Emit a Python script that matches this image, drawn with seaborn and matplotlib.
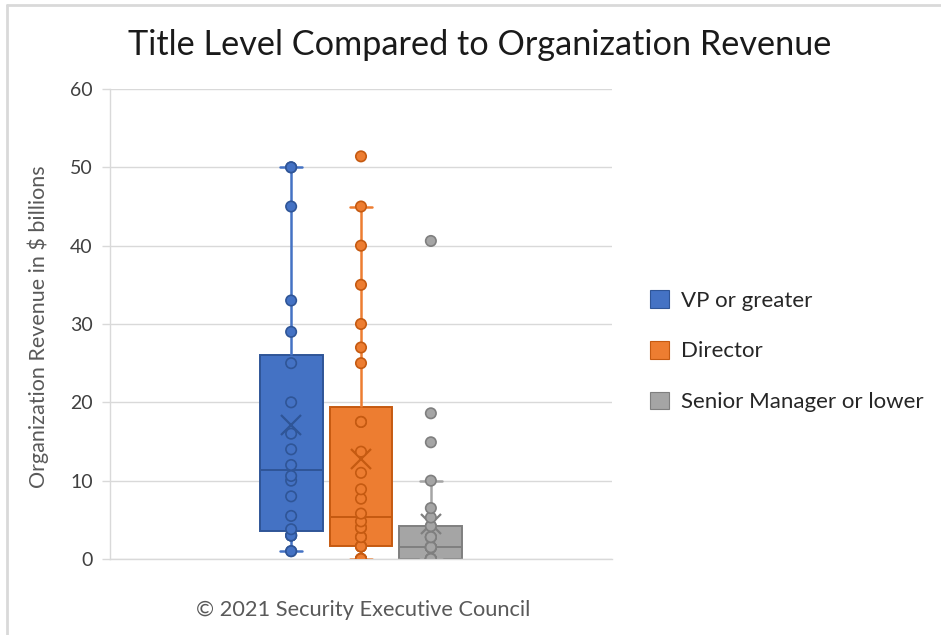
import numpy as np
import pandas as pd
import matplotlib
matplotlib.use("Agg")
import matplotlib.pyplot as plt
import matplotlib.colors as mcolors
from matplotlib.patches import Patch
from matplotlib.lines import Line2D
import seaborn as sns

# ---------------- data ----------------
groups = ["VP or greater", "Director", "Senior Manager or lower"]
vp_values = [1, 1, 3, 3, 3, 3.8, 5.5, 8, 10, 10.6, 12, 14, 16, 20, 25, 29, 33, 45, 50, 50]
director_values = [0, 0, 0, 0, 0, 0, 1.6, 1.6, 1.6, 2.8, 2.8, 4, 4, 4.8,
                   5.8, 7.7, 8.9, 11, 13.7, 17.5, 17.5, 25, 27, 30, 35, 40, 45, 51.4]
senior_values = [0] * 8 + [1.5] * 9 + [2.8] * 4 + [4.2, 4.2] + [5.3, 6.5, 10, 14.9, 18.6, 40.6]
y_ticks = [0, 10, 20, 30, 40, 50, 60]
title_text = "Title Level Compared to Organization Revenue"
ylabel_text = "Organization Revenue in $ billions"
credit_text = "\u00a9 2021 Security Executive Council"

colors = ["#4472C4", "#ED7D31", "#A5A5A5"]
dark = ["#2F5597", "#C55A11", "#7F7F7F"]

df = pd.DataFrame({
    "group": [groups[0]] * len(vp_values) + [groups[1]] * len(director_values) + [groups[2]] * len(senior_values),
    "revenue": vp_values + director_values + senior_values,
})
df["all"] = "all"

sns.set_theme(style="white")
plt.rcParams["font.family"] = ["Lato", "DejaVu Sans"]

W, H = 941, 635
fig = plt.figure(figsize=(W / 100, H / 100), dpi=100)
ax = fig.add_axes([110 / W, 76 / H, 502 / W, 470 / H])
ax.yaxis.grid(True, color="#D9D9D9", lw=1)
ax.set_axisbelow(True)

sns.boxplot(data=df, x="all", y="revenue", hue="group", hue_order=groups,
            palette=colors, saturation=1, width=0.8, gap=0.1, whis=1.5,
            showfliers=False, showmeans=True, capwidths=0.085,
            meanprops=dict(marker="x", markersize=15, markeredgewidth=1.6,
                           markeredgecolor="#333333"),
            linewidth=1.4, legend=False, ax=ax, zorder=2)

for cont, c, d in zip(ax.containers, colors, dark):
    for b in getattr(cont, "boxes", []):
        b.set_facecolor(c)
        b.set_edgecolor(d)
    for l in list(getattr(cont, "whiskers", [])) + list(getattr(cont, "caps", [])):
        l.set_color(c)
        l.set_linewidth(1.8)
    for l in getattr(cont, "medians", []):
        l.set_color(d)
    for l in getattr(cont, "means", []):
        l.set_markeredgecolor(d)

sns.stripplot(data=df, x="all", y="revenue", hue="group", hue_order=groups,
              palette=colors, dodge=True, jitter=False, size=7.5, linewidth=1.2,
              legend=False, ax=ax, zorder=3)

rgba_cols = [mcolors.to_rgba(c) for c in colors]
for coll in ax.collections:
    fc = coll.get_facecolor()
    if len(fc) == 0:
        continue
    f = tuple(fc[0])
    for c, d in zip(rgba_cols, dark):
        if np.allclose(f[:3], c[:3], atol=0.02):
            coll.set_edgecolor(d)

ax.set_xlim(-0.958, 0.958)
ax.set_xticks([])
ax.set_xlabel("")
ax.set_ylim(0, 60)
ax.set_yticks(y_ticks)
ax.set_yticklabels([str(t) for t in y_ticks])
ax.tick_params(axis="y", length=5.5, width=1, color="#D9D9D9", labelcolor="#404040",
               labelsize=14, pad=7, left=True)
for s in ["top", "right"]:
    ax.spines[s].set_visible(False)
for s in ["left", "bottom"]:
    ax.spines[s].set_color("#D9D9D9")
    ax.spines[s].set_linewidth(1)

ax.set_ylabel(ylabel_text, fontsize=15.5, color="#595959", va="center")
ax.yaxis.set_label_coords(-0.143, 0.495)

fig.text(480 / W, 1 - 45 / H, title_text, ha="center", va="center", fontsize=24.7, color="#1A1A1A")
fig.text(363 / W, 1 - 610 / H, credit_text, ha="center", va="center", fontsize=15.7, color="#595959")

handles = [Patch(facecolor=c, edgecolor=d, lw=0.8) for c, d in zip(colors, dark)]
leg = fig.legend(handles, groups, loc="upper left", bbox_to_anchor=(650 / W, 1 - 290 / H),
                 bbox_transform=fig.transFigure, frameon=False, fontsize=16,
                 handlelength=0.85, handleheight=0.85, handletextpad=0.55,
                 labelspacing=1.36, borderpad=0, borderaxespad=0)
for t in leg.get_texts():
    t.set_color("#262626")

fig.add_artist(Line2D([7 / W, 7 / W], [0, 1 - 5 / H], transform=fig.transFigure, color="#D9D9D9", lw=2))
fig.add_artist(Line2D([7 / W, 1], [1 - 5 / H, 1 - 5 / H], transform=fig.transFigure, color="#D9D9D9", lw=2))

fig.savefig("out.png", dpi=100, facecolor="white")
